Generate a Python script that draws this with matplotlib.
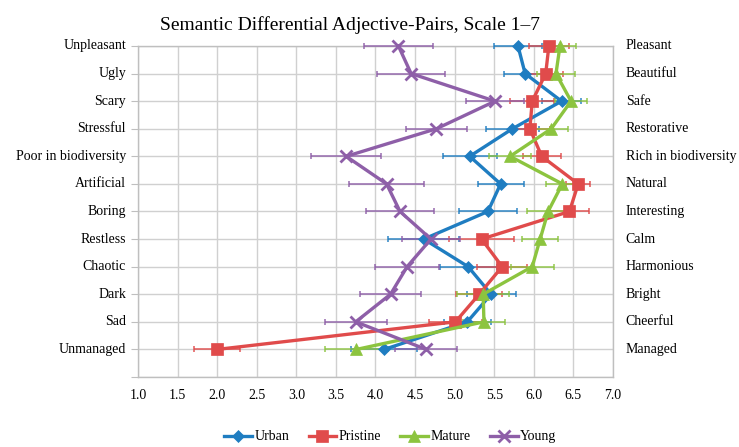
import numpy as np
import matplotlib
matplotlib.use("Agg")
import matplotlib.pyplot as plt

left_labels = ["Unpleasant", "Ugly", "Scary", "Stressful", "Poor in biodiversity",
               "Artificial", "Boring", "Restless", "Chaotic", "Dark", "Sad", "Unmanaged"]
right_labels = ["Pleasant", "Beautiful", "Safe", "Restorative", "Rich in biodiversity",
                "Natural", "Interesting", "Calm", "Harmonious", "Bright", "Cheerful", "Managed"]

urban = [5.80, 5.89, 6.35, 5.73, 5.19, 5.58, 5.42, 4.61, 5.17, 5.46, 5.16, 4.11]
urban_err = [0.30, 0.27, 0.25, 0.33, 0.34, 0.29, 0.37, 0.45, 0.36, 0.31, 0.30, 0.42]
pristine = [6.19, 6.15, 5.98, 5.95, 6.10, 6.56, 6.45, 5.34, 5.60, 5.31, 5.01, 2.00]
pristine_err = [0.25, 0.22, 0.28, 0.25, 0.24, 0.15, 0.25, 0.41, 0.32, 0.29, 0.34, 0.29]
mature = [6.33, 6.28, 6.47, 6.22, 5.70, 6.36, 6.18, 6.08, 5.98, 5.36, 5.37, 3.76]
mature_err = [0.20, 0.24, 0.20, 0.21, 0.27, 0.20, 0.26, 0.23, 0.27, 0.33, 0.26, 0.40]
young = [4.29, 4.45, 5.51, 4.77, 3.63, 4.14, 4.31, 4.70, 4.40, 4.19, 3.75, 4.64]
young_err = [0.44, 0.43, 0.37, 0.38, 0.44, 0.47, 0.43, 0.37, 0.40, 0.39, 0.39, 0.39]

x_ticks = [1.0, 1.5, 2.0, 2.5, 3.0, 3.5, 4.0, 4.5, 5.0, 5.5, 6.0, 6.5, 7.0]

plt.rcParams['font.family'] = ['Liberation Serif', 'DejaVu Serif']

fig = plt.figure(figsize=(7.39, 4.47), dpi=100)
ax = fig.add_axes([0.1867, 0.1566, 0.6428, 0.7405])

rows = np.arange(len(left_labels))

series = [
    ("Urban", urban, urban_err, "#1F7DC1", "D", 6),
    ("Pristine", pristine, pristine_err, "#E04B4B", "s", 9),
    ("Mature", mature, mature_err, "#8CC43F", "^", 8),
    ("Young", young, young_err, "#8E5FA8", "x", 8),
]

handles = []
for name, vals, errs, col, mk, ms in series:
    ax.errorbar(vals, rows, xerr=errs, fmt="none", ecolor=col, elinewidth=1.2,
                capsize=2.5, capthick=1.2, alpha=0.85, clip_on=False, zorder=3)
    kw = dict(mew=2) if mk == "x" else dict(mew=0.5)
    h, = ax.plot(vals, rows, color=col, lw=2.4, marker=mk, markersize=ms,
                 markerfacecolor=col, markeredgecolor=col, clip_on=False,
                 zorder=4, label=name, **kw)
    handles.append(h)

ax.set_xlim(1.0, 7.0)
ax.set_ylim(12, 0)
ax.set_xticks(x_ticks)
ax.set_xticklabels([f"{t:.1f}" for t in x_ticks], fontsize=10)
ax.set_yticks(np.arange(13))
ax.set_yticklabels([])
ax.tick_params(axis='x', length=0, pad=9)
ax.tick_params(axis='y', length=5, color="#BFBFBF", direction='out')
ax.grid(True, color="#D0D0D0", lw=1.0)
ax.set_axisbelow(True)
for s in ax.spines.values():
    s.set_color("#BFBFBF")
    s.set_linewidth(1.0)

for i, (l, r) in enumerate(zip(left_labels, right_labels)):
    ax.text(-0.025, i, l, transform=ax.get_yaxis_transform(), ha='right',
            va='center', fontsize=10)
    ax.text(1.027, i, r, transform=ax.get_yaxis_transform(), ha='left',
            va='center', fontsize=10)

fig.text(0.474, 0.944, "Semantic Differential Adjective-Pairs, Scale 1\u20137",
         ha='center', va='center', fontsize=14)

fig.legend(handles=handles, loc='lower center', bbox_to_anchor=(0.528, -0.02),
           ncol=4, frameon=False, fontsize=10, handlelength=2.0,
           columnspacing=1.4, handletextpad=0.15)

fig.savefig("out.png", dpi=100)
